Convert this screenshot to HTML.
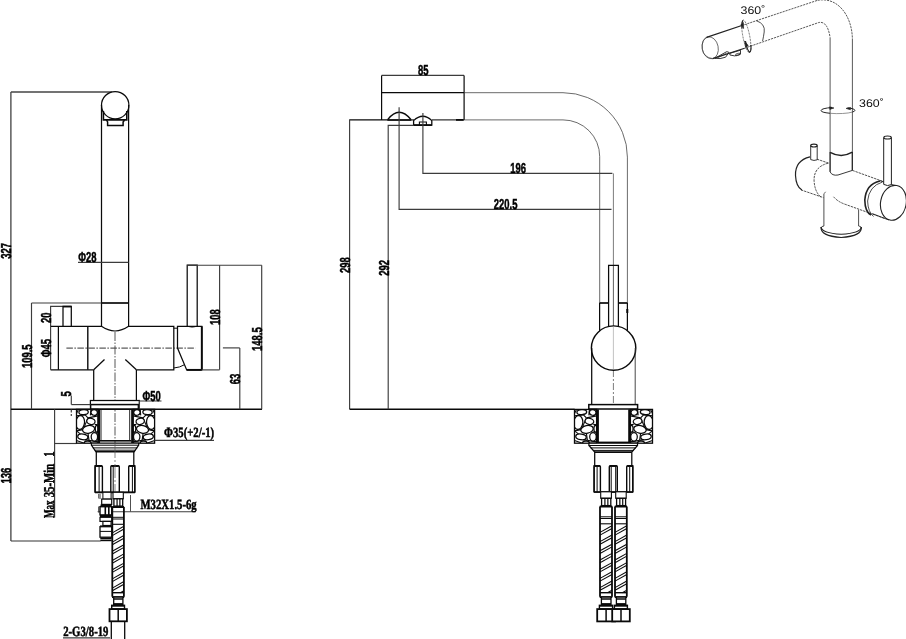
<!DOCTYPE html>
<html><head><meta charset="utf-8"><title>Faucet dimensions</title>
<style>
html,body{margin:0;padding:0;background:#fff;}
body{width:906px;height:639px;overflow:hidden;font-family:"Liberation Sans",sans-serif;}
svg{will-change:transform;transform:translateZ(0);}
svg text{font-kerning:none;text-rendering:geometricPrecision;}
</style></head><body>
<svg width="906" height="639" viewBox="0 0 906 639" style="display:block">
<line x1="10.9" y1="92" x2="10.9" y2="541" stroke="#333" stroke-width="1.2" />
<line x1="10.9" y1="92" x2="112" y2="92" stroke="#444" stroke-width="1.3" />
<line x1="10.9" y1="409.3" x2="262" y2="409.3" stroke="#0a0a0a" stroke-width="1.6" />
<line x1="10.9" y1="541" x2="100.6" y2="541" stroke="#333" stroke-width="1.2" />
<text transform="translate(10.9 258.7) rotate(-90) scale(0.655 1)" font-family='"Liberation Sans", sans-serif' font-size="14.4" font-weight="bold" fill="#000" stroke="#000" stroke-width="0.5">327</text>
<text transform="translate(10.9 483.4) rotate(-90) scale(0.655 1)" font-family='"Liberation Sans", sans-serif' font-size="14.4" font-weight="bold" fill="#000" stroke="#000" stroke-width="0.5">136</text>
<circle cx="115.2" cy="105.2" r="13.7" stroke="#0a0a0a" stroke-width="1.25" fill="#fff"/>
<line x1="101.5" y1="105" x2="101.5" y2="326.3" stroke="#0a0a0a" stroke-width="1.25" />
<line x1="128.6" y1="105" x2="128.6" y2="326.3" stroke="#0a0a0a" stroke-width="1.25" />
<path d="M103.4 111 V119.9 H126.8 V111" stroke="#0a0a0a" stroke-width="1.6" fill="none" />
<path d="M106.5 120 L107.6 122 V125.5 H123.1 V122 L124.5 120" stroke="#0a0a0a" stroke-width="1.5" fill="none" />
<line x1="78" y1="262.4" x2="128.6" y2="262.4" stroke="#3c3c3c" stroke-width="1.15" />
<text transform="translate(78.3 262.4) rotate(0) scale(0.655 1)" font-family='"Liberation Sans", sans-serif' font-size="14.4" font-weight="bold" fill="#000" stroke="#000" stroke-width="0.5">&#934;28</text>
<line x1="31.5" y1="303" x2="101.5" y2="303" stroke="#3c3c3c" stroke-width="1.15" />
<line x1="101.5" y1="303" x2="128.6" y2="303" stroke="#0a0a0a" stroke-width="1.7" />
<line x1="31.5" y1="303" x2="31.5" y2="409.3" stroke="#3c3c3c" stroke-width="1.15" />
<text transform="translate(31.5 368) rotate(-90) scale(0.655 1)" font-family='"Liberation Sans", sans-serif' font-size="14.4" font-weight="bold" fill="#000" stroke="#000" stroke-width="0.5">109.5</text>
<path d="M50.6 326.3 V306.4 H63" stroke="#3c3c3c" stroke-width="1.15" fill="none" />
<path d="M63 326.3 V306.4 H71.3 V326.3" stroke="#0a0a0a" stroke-width="1.25" fill="none" />
<line x1="63" y1="306.6" x2="71.3" y2="306.6" stroke="#0a0a0a" stroke-width="1.7" />
<text transform="translate(50.6 323) rotate(-90) scale(0.655 1)" font-family='"Liberation Sans", sans-serif' font-size="14.4" font-weight="bold" fill="#000" stroke="#000" stroke-width="0.5">20</text>
<line x1="50.6" y1="326.3" x2="50.6" y2="369.8" stroke="#3c3c3c" stroke-width="1.15" />
<text transform="translate(50.6 357.3) rotate(-90) scale(0.655 1)" font-family='"Liberation Sans", sans-serif' font-size="14.4" font-weight="bold" fill="#000" stroke="#000" stroke-width="0.5">&#934;45</text>
<path d="M50.6 326.3 H101.5 Q108 330.8 115 331 Q122 330.8 128.6 326.3 H173.8 V369.8 H136.4" stroke="#0a0a0a" stroke-width="1.25" fill="none" />
<path d="M50.6 369.8 H93.7" stroke="#0a0a0a" stroke-width="1.25" fill="none" />
<line x1="58.4" y1="326.3" x2="58.4" y2="369.8" stroke="#0a0a0a" stroke-width="1.25" />
<line x1="87.8" y1="326.3" x2="87.8" y2="369.8" stroke="#0a0a0a" stroke-width="1.4" />
<line x1="93.7" y1="369.8" x2="104.5" y2="359.5" stroke="#0a0a0a" stroke-width="1.25" />
<line x1="136.4" y1="369.8" x2="125.3" y2="359.5" stroke="#0a0a0a" stroke-width="1.25" />
<line x1="93.7" y1="369.8" x2="93.7" y2="400.5" stroke="#0a0a0a" stroke-width="1.25" />
<line x1="136.4" y1="369.8" x2="136.4" y2="400.5" stroke="#0a0a0a" stroke-width="1.25" />
<line x1="66.4" y1="348.1" x2="195.5" y2="348.1" stroke="#333" stroke-width="1.0" stroke-dasharray="6.5 1.5 1.5 1.5"/>
<line x1="115" y1="332" x2="115" y2="444" stroke="#444" stroke-width="0.9" stroke-dasharray="9 1.5 1.5 1.5"/>
<path d="M177.5 326.4 H201.8 V369.9 H186.7 L177.5 348 Z" stroke="#0a0a0a" stroke-width="1.25" fill="none" />
<line x1="201.8" y1="326.3" x2="201.8" y2="369.9" stroke="#0a0a0a" stroke-width="1.9" />
<line x1="186.7" y1="369.9" x2="201.8" y2="369.9" stroke="#0a0a0a" stroke-width="1.9" />
<line x1="173.7" y1="328.2" x2="177.5" y2="328.2" stroke="#0a0a0a" stroke-width="1.0" />
<path d="M173.8 368 Q180 367.5 184.5 364.7" stroke="#0a0a0a" stroke-width="1.0" fill="none" />
<path d="M187.2 326.3 V265.2 H197.2 V326.3" stroke="#0a0a0a" stroke-width="1.25" fill="none" />
<path d="M189 326.6 Q192 327.8 195.5 326.6" stroke="#0a0a0a" stroke-width="0.8" fill="none" />
<line x1="187.2" y1="265.2" x2="261.8" y2="265.2" stroke="#3c3c3c" stroke-width="1.15" />
<line x1="219.6" y1="265.2" x2="219.6" y2="369.8" stroke="#3c3c3c" stroke-width="1.15" />
<line x1="201.8" y1="369.9" x2="219.6" y2="369.9" stroke="#3c3c3c" stroke-width="1.15" />
<text transform="translate(219.6 325) rotate(-90) scale(0.655 1)" font-family='"Liberation Sans", sans-serif' font-size="14.4" font-weight="bold" fill="#000" stroke="#000" stroke-width="0.5">108</text>
<line x1="261.7" y1="265.2" x2="261.7" y2="409.3" stroke="#3c3c3c" stroke-width="1.15" />
<text transform="translate(261.7 350.9) rotate(-90) scale(0.655 1)" font-family='"Liberation Sans", sans-serif' font-size="14.4" font-weight="bold" fill="#000" stroke="#000" stroke-width="0.5">148.5</text>
<line x1="222.9" y1="347.9" x2="239.8" y2="347.9" stroke="#3c3c3c" stroke-width="1.15" />
<line x1="239.8" y1="347.9" x2="239.8" y2="409.3" stroke="#3c3c3c" stroke-width="1.15" />
<text transform="translate(239.8 384.2) rotate(-90) scale(0.655 1)" font-family='"Liberation Sans", sans-serif' font-size="14.4" font-weight="bold" fill="#000" stroke="#000" stroke-width="0.5">63</text>
<rect x="90.4" y="400.5" width="49" height="4.1" stroke="#0a0a0a" stroke-width="1.25" fill="#fff"/>
<rect x="90.6" y="404.6" width="47.8" height="4.4" stroke="#0a0a0a" stroke-width="1.5" fill="#fff"/>
<line x1="71.3" y1="395.5" x2="71.3" y2="404.6" stroke="#3c3c3c" stroke-width="1.15" />
<line x1="71.3" y1="404.6" x2="90.4" y2="404.6" stroke="#3c3c3c" stroke-width="1.15" />
<line x1="71.3" y1="409.5" x2="71.3" y2="416" stroke="#3c3c3c" stroke-width="1.15" stroke-dasharray="3 1.5"/>
<text transform="translate(71.3 396.5) rotate(-90) scale(0.655 1)" font-family='"Liberation Sans", sans-serif' font-size="14.4" font-weight="bold" fill="#000" stroke="#000" stroke-width="0.5">5</text>
<path d="M139.4 409 V401 H161.5" stroke="#3c3c3c" stroke-width="1.15" fill="none" />
<text transform="translate(142.4 401) rotate(0) scale(0.655 1)" font-family='"Liberation Sans", sans-serif' font-size="14.4" font-weight="bold" fill="#000" stroke="#000" stroke-width="0.5">&#934;50</text>
<line x1="54.6" y1="409.3" x2="54.6" y2="517.5" stroke="#3c3c3c" stroke-width="1.15" />
<line x1="54.6" y1="443.5" x2="76.5" y2="443.5" stroke="#3c3c3c" stroke-width="1.15" />
<text transform="translate(54.3 517.9) rotate(-90) scale(0.6 1)" font-family='"Liberation Serif", serif' font-size="15" font-weight="bold" fill="#000" stroke="#000" stroke-width="0.5">Max</text>
<text transform="translate(54.3 497.3) rotate(-90) scale(0.72 1)" font-family='"Liberation Serif", serif' font-size="15" font-weight="bold" fill="#000" stroke="#000" stroke-width="0.5">35-Min</text>
<text transform="translate(54.3 456.8) rotate(-90) scale(0.72 1)" font-family='"Liberation Serif", serif' font-size="15" font-weight="bold" fill="#000" stroke="#000" stroke-width="0.5">1</text>
<clipPath id="cb1"><rect x="76.5" y="409.4" width="21.400000000000006" height="33.80000000000001"/></clipPath>
<rect x="76.5" y="409.4" width="21.400000000000006" height="33.80000000000001" fill="#fff" stroke="none"/>
<g clip-path="url(#cb1)" stroke="#0a0a0a" stroke-width="1.25" fill="#fff">
<line x1="76.5" y1="415.9" x2="85.1" y2="414.9" stroke-width="1.1"/>
<line x1="85.1" y1="414.9" x2="88.0" y2="417.9" stroke-width="1.1"/>
<line x1="88.0" y1="417.9" x2="97.9" y2="415.9" stroke-width="1.1"/>
<line x1="84.2" y1="429.4" x2="76.5" y2="430.9" stroke-width="1.1"/>
<line x1="85.1" y1="424.9" x2="88.0" y2="417.9" stroke-width="1.1"/>
<line x1="85.1" y1="424.9" x2="83.2" y2="431.4" stroke-width="1.1"/>
<line x1="94.7" y1="424.4" x2="97.9" y2="424.9" stroke-width="1.1"/>
<line x1="92.8" y1="432.4" x2="97.9" y2="431.9" stroke-width="1.1"/>
<line x1="88.0" y1="433.4" x2="89.0" y2="440.4" stroke-width="1.1"/>
<line x1="89.0" y1="440.4" x2="97.9" y2="441.9" stroke-width="1.1"/>
<line x1="76.5" y1="440.4" x2="84.2" y2="443.2" stroke-width="1.1"/>
<line x1="90.4" y1="415.4" x2="90.9" y2="409.4" stroke-width="1.1"/>
<line x1="78.4" y1="409.4" x2="76.5" y2="413.4" stroke-width="1.1"/>
<line x1="76.5" y1="430.9" x2="80.3" y2="433.9" stroke-width="1.1"/>
<line x1="89.0" y1="440.4" x2="85.1" y2="439.9" stroke-width="1.1"/>
<ellipse cx="83.6" cy="412.1" rx="4.7" ry="2.5" transform="rotate(-5 83.6 412.1)"/>
<ellipse cx="94.2" cy="412.5" rx="3.2" ry="2.8" transform="rotate(10 94.2 412.5)"/>
<ellipse cx="80.1" cy="422.6" rx="4.4" ry="6.9" transform="rotate(6 80.1 422.6)"/>
<ellipse cx="90.9" cy="421.3" rx="4.2" ry="3.1" transform="rotate(12 90.9 421.3)"/>
<ellipse cx="88.6" cy="429.4" rx="6.1" ry="3.8" transform="rotate(-12 88.6 429.4)"/>
<ellipse cx="82.8" cy="436.9" rx="5.1" ry="2.8" transform="rotate(8 82.8 436.9)"/>
<ellipse cx="94.4" cy="436.8" rx="3.2" ry="4.3" transform="rotate(0 94.4 436.8)"/>
<ellipse cx="87.6" cy="442.8" rx="3.3" ry="1.7" transform="rotate(0 87.6 442.8)"/>
<ellipse cx="96.8" cy="428.7" rx="1.5" ry="3.4" transform="rotate(0 96.8 428.7)"/>
</g>
<rect x="76.5" y="409.4" width="21.400000000000006" height="33.80000000000001" fill="none" stroke="#0a0a0a" stroke-width="1.3"/>
<clipPath id="cb2"><rect x="133.2" y="409.4" width="21.400000000000006" height="33.80000000000001"/></clipPath>
<rect x="133.2" y="409.4" width="21.400000000000006" height="33.80000000000001" fill="#fff" stroke="none"/>
<g clip-path="url(#cb2)" stroke="#0a0a0a" stroke-width="1.25" fill="#fff">
<line x1="154.6" y1="415.9" x2="146.0" y2="414.9" stroke-width="1.1"/>
<line x1="146.0" y1="414.9" x2="143.1" y2="417.9" stroke-width="1.1"/>
<line x1="143.1" y1="417.9" x2="133.2" y2="415.9" stroke-width="1.1"/>
<line x1="146.9" y1="429.4" x2="154.6" y2="430.9" stroke-width="1.1"/>
<line x1="146.0" y1="424.9" x2="143.1" y2="417.9" stroke-width="1.1"/>
<line x1="146.0" y1="424.9" x2="147.9" y2="431.4" stroke-width="1.1"/>
<line x1="136.4" y1="424.4" x2="133.2" y2="424.9" stroke-width="1.1"/>
<line x1="138.3" y1="432.4" x2="133.2" y2="431.9" stroke-width="1.1"/>
<line x1="143.1" y1="433.4" x2="142.1" y2="440.4" stroke-width="1.1"/>
<line x1="142.1" y1="440.4" x2="133.2" y2="441.9" stroke-width="1.1"/>
<line x1="154.6" y1="440.4" x2="146.9" y2="443.2" stroke-width="1.1"/>
<line x1="140.7" y1="415.4" x2="140.2" y2="409.4" stroke-width="1.1"/>
<line x1="152.7" y1="409.4" x2="154.6" y2="413.4" stroke-width="1.1"/>
<line x1="154.6" y1="430.9" x2="150.8" y2="433.9" stroke-width="1.1"/>
<line x1="142.1" y1="440.4" x2="146.0" y2="439.9" stroke-width="1.1"/>
<ellipse cx="147.5" cy="412.1" rx="4.7" ry="2.5" transform="rotate(5 147.5 412.1)"/>
<ellipse cx="136.9" cy="412.5" rx="3.2" ry="2.8" transform="rotate(-10 136.9 412.5)"/>
<ellipse cx="151.0" cy="422.6" rx="4.4" ry="6.9" transform="rotate(-6 151.0 422.6)"/>
<ellipse cx="140.2" cy="421.3" rx="4.2" ry="3.1" transform="rotate(-12 140.2 421.3)"/>
<ellipse cx="142.5" cy="429.4" rx="6.1" ry="3.8" transform="rotate(12 142.5 429.4)"/>
<ellipse cx="148.3" cy="436.9" rx="5.1" ry="2.8" transform="rotate(-8 148.3 436.9)"/>
<ellipse cx="136.7" cy="436.8" rx="3.2" ry="4.3" transform="rotate(0 136.7 436.8)"/>
<ellipse cx="143.5" cy="442.8" rx="3.3" ry="1.7" transform="rotate(0 143.5 442.8)"/>
<ellipse cx="134.3" cy="428.7" rx="1.5" ry="3.4" transform="rotate(0 134.3 428.7)"/>
</g>
<rect x="133.2" y="409.4" width="21.400000000000006" height="33.80000000000001" fill="none" stroke="#0a0a0a" stroke-width="1.3"/>
<line x1="98.9" y1="409.3" x2="98.9" y2="443" stroke="#0a0a0a" stroke-width="2.3" />
<line x1="132.3" y1="409.3" x2="132.3" y2="443" stroke="#0a0a0a" stroke-width="2.3" />
<line x1="101.0" y1="409.3" x2="101.0" y2="441" stroke="#0a0a0a" stroke-width="0.9" />
<line x1="129.7" y1="409.3" x2="129.7" y2="441" stroke="#0a0a0a" stroke-width="0.9" />
<line x1="100" y1="440.8" x2="131.5" y2="440.8" stroke="#0a0a0a" stroke-width="1.6" />
<line x1="154.5" y1="440.3" x2="214" y2="440.3" stroke="#3c3c3c" stroke-width="1.15" />
<text transform="translate(164.1 436.8) rotate(0) scale(0.76 1)" font-family='"Liberation Serif", serif' font-size="14.1" font-weight="bold" fill="#000" stroke="#000" stroke-width="0.5">&#934;35(+2/-1)</text>
<path d="M91.4 443 V445 L95.8 451.6 H96.3 V465.7 H95.1 V492.3 H134.8 V465.7 H133.8 V451.6 H134.3 L138.7 445 V443 Z" stroke="#0a0a0a" stroke-width="1.25" fill="#fff" />
<line x1="91.4" y1="445.2" x2="138.7" y2="445.2" stroke="#0a0a0a" stroke-width="1.0" />
<line x1="92.8" y1="447.9" x2="137.3" y2="447.9" stroke="#0a0a0a" stroke-width="1.0" />
<line x1="94.8" y1="450.2" x2="135.3" y2="450.2" stroke="#0a0a0a" stroke-width="1.0" />
<line x1="95.8" y1="451.8" x2="134.3" y2="451.8" stroke="#0a0a0a" stroke-width="1.5" />
<line x1="95" y1="492.3" x2="135" y2="492.3" stroke="#0a0a0a" stroke-width="1.7" />
<path d="M95.1 492.3 V466.7 Q95.1 465.7 96.1 465.7 H101.4 Q102.4 465.7 102.4 466.7 V492.3" stroke="#0a0a0a" stroke-width="1.4" fill="none" />
<line x1="95.6" y1="466.0" x2="101.9" y2="466.0" stroke="#0a0a0a" stroke-width="1.9" />
<line x1="99.1" y1="466.9" x2="99.1" y2="492.3" stroke="#0a0a0a" stroke-width="1.0" />
<path d="M110.8 492.3 V466.7 Q110.8 465.7 111.8 465.7 H118.3 Q119.3 465.7 119.3 466.7 V492.3" stroke="#0a0a0a" stroke-width="1.4" fill="none" />
<line x1="111.3" y1="466.0" x2="118.8" y2="466.0" stroke="#0a0a0a" stroke-width="1.9" />
<line x1="113.2" y1="466.9" x2="113.2" y2="492.3" stroke="#0a0a0a" stroke-width="1.0" />
<path d="M128.7 492.3 V466.7 Q128.7 465.7 129.7 465.7 H133.8 Q134.8 465.7 134.8 466.7 V492.3" stroke="#0a0a0a" stroke-width="1.4" fill="none" />
<line x1="129.2" y1="466.0" x2="134.3" y2="466.0" stroke="#0a0a0a" stroke-width="1.9" />
<line x1="132.4" y1="466.9" x2="132.4" y2="492.3" stroke="#0a0a0a" stroke-width="1.0" />
<line x1="115" y1="444" x2="115" y2="492" stroke="#555" stroke-width="0.7" stroke-dasharray="14 2 2 2"/>
<line x1="130.5" y1="495" x2="130.5" y2="511.5" stroke="#3c3c3c" stroke-width="0.9" />
<line x1="111.7" y1="511.7" x2="196" y2="511.7" stroke="#3c3c3c" stroke-width="1.15" />
<line x1="98.6" y1="506.5" x2="98.6" y2="512.6" stroke="#3c3c3c" stroke-width="0.9" />
<line x1="97.6" y1="511.7" x2="100" y2="511.7" stroke="#3c3c3c" stroke-width="0.9" />
<line x1="98.6" y1="494" x2="98.6" y2="498.5" stroke="#3c3c3c" stroke-width="0.8" />
<text transform="translate(140.5 508.5) rotate(0) scale(0.76 1)" font-family='"Liberation Serif", serif' font-size="14.1" font-weight="bold" fill="#000" stroke="#000" stroke-width="0.5">M32X1.5-6g</text>
<line x1="63" y1="637.9" x2="110" y2="637.9" stroke="#3c3c3c" stroke-width="1.15" />
<text transform="translate(63.2 635.7) rotate(0) scale(0.76 1)" font-family='"Liberation Serif", serif' font-size="14.1" font-weight="bold" fill="#000" stroke="#000" stroke-width="0.5">2-G3/8-19</text>
<rect x="113.0" y="492.3" width="10.300000000000008" height="6.5" stroke="#0a0a0a" stroke-width="1.1" fill="#fff"/>
<rect x="113.89999999999999" y="498.8" width="8.800000000000008" height="7.3" stroke="#0a0a0a" stroke-width="1.3" fill="#fff"/>
<line x1="117.068" y1="498.8" x2="117.068" y2="506.1" stroke="#0a0a0a" stroke-width="1.2" />
<line x1="119.884" y1="498.8" x2="119.884" y2="506.1" stroke="#0a0a0a" stroke-width="1.2" />
<line x1="112.1" y1="507.0" x2="124.10000000000001" y2="507.0" stroke="#0a0a0a" stroke-width="2.0" />
<line x1="112.3" y1="507.0" x2="112.3" y2="596.7" stroke="#0a0a0a" stroke-width="1.8" />
<line x1="123.9" y1="507.0" x2="123.9" y2="596.7" stroke="#0a0a0a" stroke-width="1.8" />
<line x1="112.3" y1="517.3" x2="123.9" y2="517.3" stroke="#0a0a0a" stroke-width="1.0" />
<line x1="112.3" y1="519.0" x2="123.9" y2="519.0" stroke="#0a0a0a" stroke-width="1.0" />
<line x1="112.3" y1="524.3" x2="123.9" y2="524.3" stroke="#0a0a0a" stroke-width="1.1" />
<line x1="112.3" y1="532.9" x2="123.9" y2="526.3" stroke="#0a0a0a" stroke-width="1.05" />
<line x1="112.3" y1="535.6" x2="123.9" y2="529.0" stroke="#0a0a0a" stroke-width="1.05" />
<line x1="112.3" y1="542.1" x2="123.9" y2="535.5" stroke="#0a0a0a" stroke-width="1.05" />
<line x1="112.3" y1="544.8" x2="123.9" y2="538.2" stroke="#0a0a0a" stroke-width="1.05" />
<line x1="112.3" y1="551.3" x2="123.9" y2="544.7" stroke="#0a0a0a" stroke-width="1.05" />
<line x1="112.3" y1="554.0" x2="123.9" y2="547.4" stroke="#0a0a0a" stroke-width="1.05" />
<line x1="112.3" y1="560.5" x2="123.9" y2="553.9" stroke="#0a0a0a" stroke-width="1.05" />
<line x1="112.3" y1="563.2" x2="123.9" y2="556.6" stroke="#0a0a0a" stroke-width="1.05" />
<line x1="112.3" y1="569.7" x2="123.9" y2="563.1" stroke="#0a0a0a" stroke-width="1.05" />
<line x1="112.3" y1="572.4" x2="123.9" y2="565.8" stroke="#0a0a0a" stroke-width="1.05" />
<line x1="112.3" y1="578.9" x2="123.9" y2="572.3" stroke="#0a0a0a" stroke-width="1.05" />
<line x1="112.3" y1="581.6" x2="123.9" y2="575.0" stroke="#0a0a0a" stroke-width="1.05" />
<line x1="112.3" y1="588.1" x2="123.9" y2="581.5" stroke="#0a0a0a" stroke-width="1.05" />
<line x1="112.3" y1="590.8" x2="123.9" y2="584.2" stroke="#0a0a0a" stroke-width="1.05" />
<line x1="120.4" y1="592.7" x2="123.9" y2="590.7" stroke="#0a0a0a" stroke-width="1.05" />
<line x1="112.3" y1="592.7" x2="123.9" y2="592.7" stroke="#0a0a0a" stroke-width="1.4" />
<line x1="112.0" y1="597.1" x2="124.2" y2="597.1" stroke="#0a0a0a" stroke-width="1.9" />
<rect x="113.7" y="597.1" width="9.200000000000008" height="7.5" stroke="#0a0a0a" stroke-width="1.3" fill="#fff"/>
<line x1="113.7" y1="599.0" x2="122.9" y2="599.0" stroke="#0a0a0a" stroke-width="1.5" />
<line x1="113.7" y1="603.9000000000001" x2="122.9" y2="603.9000000000001" stroke="#0a0a0a" stroke-width="1.6" />
<rect x="111.7" y="605.3000000000001" width="12.800000000000008" height="3.6" stroke="#0a0a0a" stroke-width="1.4" fill="#fff"/>
<line x1="111.7" y1="605.9000000000001" x2="124.5" y2="605.9000000000001" stroke="#0a0a0a" stroke-width="1.6" />
<rect x="109.5" y="609.1" width="17.40000000000001" height="12.199999999999932" stroke="#0a0a0a" stroke-width="1.8" fill="#fff"/>
<line x1="118.2" y1="609.1" x2="118.2" y2="621.3" stroke="#0a0a0a" stroke-width="1.5" />
<line x1="111.3" y1="621.3" x2="111.3" y2="639" stroke="#0a0a0a" stroke-width="1.3" />
<line x1="124.7" y1="621.3" x2="124.7" y2="639" stroke="#0a0a0a" stroke-width="1.3" />
<line x1="100" y1="493.8" x2="100" y2="499" stroke="#0a0a0a" stroke-width="0.8" />
<rect x="102.9" y="492.3" width="8.2" height="6.8" stroke="#0a0a0a" stroke-width="1.0" fill="#fff"/>
<rect x="101.7" y="499.1" width="10" height="5.3" stroke="#0a0a0a" stroke-width="1.2" fill="#fff"/>
<line x1="100.5" y1="505.6" x2="111.7" y2="505.6" stroke="#0a0a0a" stroke-width="2.2" />
<rect x="100" y="506.7" width="11.7" height="8.2" stroke="#0a0a0a" stroke-width="1.4" fill="#fff"/>
<line x1="105.3" y1="506.7" x2="105.3" y2="514.9" stroke="#0a0a0a" stroke-width="1.6" />
<line x1="108.8" y1="506.7" x2="108.8" y2="514.9" stroke="#0a0a0a" stroke-width="1.6" />
<line x1="100" y1="516.1" x2="111.7" y2="516.1" stroke="#0a0a0a" stroke-width="2.2" />
<rect x="100" y="517.3" width="11.7" height="4.1" stroke="#0a0a0a" stroke-width="1.2" fill="#fff"/>
<rect x="102.9" y="521.4" width="8.2" height="4.1" stroke="#0a0a0a" stroke-width="1.2" fill="#fff"/>
<line x1="100" y1="526.1" x2="111.7" y2="526.1" stroke="#0a0a0a" stroke-width="1.4" />
<rect x="100" y="526.7" width="11.7" height="10.5" stroke="#0a0a0a" stroke-width="1.3" fill="#fff"/>
<line x1="100" y1="531.4" x2="111.7" y2="531.4" stroke="#0a0a0a" stroke-width="1.0" />
<line x1="100.3" y1="538.3" x2="111.7" y2="538.3" stroke="#0a0a0a" stroke-width="1.6" />
<line x1="100.3" y1="540.4" x2="111.7" y2="540.4" stroke="#0a0a0a" stroke-width="1.6" />
<line x1="381.6" y1="75.4" x2="464.1" y2="75.4" stroke="#3c3c3c" stroke-width="1.15" />
<line x1="381.6" y1="75.4" x2="381.6" y2="120" stroke="#0a0a0a" stroke-width="1.2" />
<line x1="464.1" y1="75.4" x2="464.1" y2="120" stroke="#0a0a0a" stroke-width="1.2" />
<text transform="translate(418 75.4) rotate(0) scale(0.655 1)" font-family='"Liberation Sans", sans-serif' font-size="14.4" font-weight="bold" fill="#000" stroke="#000" stroke-width="0.5">85</text>
<line x1="381.6" y1="92.7" x2="464.1" y2="92.7" stroke="#0a0a0a" stroke-width="1.3" />
<path d="M464.1 92.7 H563 A64.4 64.4 0 0 1 627.4 157.1 V303" stroke="#3a3a3a" stroke-width="0.75" fill="none" />
<path d="M464.1 119.9 H563 A36.7 36.7 0 0 1 599.7 156.6 V303" stroke="#3a3a3a" stroke-width="0.75" fill="none" />
<line x1="349.2" y1="119.9" x2="388" y2="119.9" stroke="#0a0a0a" stroke-width="1.1" />
<line x1="387.4" y1="120" x2="411.3" y2="120" stroke="#0a0a0a" stroke-width="1.8" />
<line x1="411" y1="119.9" x2="414" y2="119.9" stroke="#0a0a0a" stroke-width="1.1" />
<line x1="431.8" y1="119.9" x2="464.1" y2="119.9" stroke="#333" stroke-width="1.3" />
<line x1="456" y1="119.9" x2="463.6" y2="119.9" stroke="#0a0a0a" stroke-width="1.8" />
<path d="M387.8 119.5 Q399 105 410.9 119.5" stroke="#0a0a0a" stroke-width="1.3" fill="none" />
<path d="M413.6 125.1 V120.6 Q422.9 111.8 431.8 120.6 V125.1 Z" stroke="#0a0a0a" stroke-width="1.3" fill="#fff" />
<path d="M419.4 125.1 V122 H426.4 V125.1" stroke="#0a0a0a" stroke-width="1.1" fill="none" />
<line x1="413.6" y1="125.1" x2="431.8" y2="125.1" stroke="#0a0a0a" stroke-width="1.7" />
<line x1="349.6" y1="119.9" x2="349.6" y2="409.3" stroke="#3c3c3c" stroke-width="1.15" />
<line x1="349.6" y1="409.3" x2="574.5" y2="409.3" stroke="#0a0a0a" stroke-width="1.4" />
<text transform="translate(349.6 273) rotate(-90) scale(0.655 1)" font-family='"Liberation Sans", sans-serif' font-size="14.4" font-weight="bold" fill="#000" stroke="#000" stroke-width="0.5">298</text>
<path d="M413.6 125.3 H388.2 V409.3" stroke="#3c3c3c" stroke-width="1.15" fill="none" />
<text transform="translate(388.5 275.8) rotate(-90) scale(0.655 1)" font-family='"Liberation Sans", sans-serif' font-size="14.4" font-weight="bold" fill="#000" stroke="#000" stroke-width="0.5">292</text>
<path d="M399.1 107.3 V209.4 H611.5" stroke="#3c3c3c" stroke-width="1.15" fill="none" />
<text transform="translate(493.8 209.4) rotate(0) scale(0.655 1)" font-family='"Liberation Sans", sans-serif' font-size="14.4" font-weight="bold" fill="#000" stroke="#000" stroke-width="0.5">220.5</text>
<path d="M422.9 113.1 V173.4 H612.4" stroke="#3c3c3c" stroke-width="1.15" fill="none" />
<text transform="translate(510.3 173.4) rotate(0) scale(0.655 1)" font-family='"Liberation Sans", sans-serif' font-size="14.4" font-weight="bold" fill="#000" stroke="#000" stroke-width="0.5">196</text>
<line x1="613.4" y1="173.4" x2="613.4" y2="326" stroke="#444" stroke-width="0.7" />
<line x1="613.4" y1="326" x2="613.4" y2="370" stroke="#888" stroke-width="0.6" />
<line x1="613.4" y1="370" x2="613.4" y2="409" stroke="#444" stroke-width="0.7" stroke-dasharray="7 2 2 2"/>
<line x1="599.6" y1="303" x2="599.6" y2="332" stroke="#0a0a0a" stroke-width="1.25" />
<line x1="627.4" y1="303" x2="627.4" y2="332" stroke="#0a0a0a" stroke-width="1.25" />
<line x1="599.6" y1="303" x2="608.6" y2="303" stroke="#0a0a0a" stroke-width="1.7" />
<line x1="618.4" y1="303" x2="627.4" y2="303" stroke="#0a0a0a" stroke-width="1.7" />
<line x1="627.3" y1="309" x2="627.3" y2="313" stroke="#0a0a0a" stroke-width="2.0" />
<path d="M608.6 326.5 V265.4 H618.4 V326.5" stroke="#0a0a0a" stroke-width="1.25" fill="#fff" />
<line x1="613.4" y1="266" x2="613.4" y2="326" stroke="#333" stroke-width="0.8" />
<circle cx="613.6" cy="348.1" r="22.2" stroke="#0a0a0a" stroke-width="1.4" fill="#fff"/>
<line x1="613.4" y1="327" x2="613.4" y2="369" stroke="#999" stroke-width="0.6" />
<line x1="591.7" y1="348" x2="591.7" y2="404.5" stroke="#0a0a0a" stroke-width="1.25" />
<line x1="635.2" y1="348" x2="635.2" y2="404.5" stroke="#333" stroke-width="0.9" />
<rect x="588.8" y="404.6" width="48.8" height="4.4" stroke="#0a0a0a" stroke-width="1.5" fill="#fff"/>
<clipPath id="cb3"><rect x="574.5" y="409.4" width="22.100000000000023" height="33.80000000000001"/></clipPath>
<rect x="574.5" y="409.4" width="22.100000000000023" height="33.80000000000001" fill="#fff" stroke="none"/>
<g clip-path="url(#cb3)" stroke="#0a0a0a" stroke-width="1.25" fill="#fff">
<line x1="574.5" y1="415.9" x2="583.4" y2="414.9" stroke-width="1.1"/>
<line x1="583.4" y1="414.9" x2="586.4" y2="417.9" stroke-width="1.1"/>
<line x1="586.4" y1="417.9" x2="596.6" y2="415.9" stroke-width="1.1"/>
<line x1="582.4" y1="429.4" x2="574.5" y2="430.9" stroke-width="1.1"/>
<line x1="583.4" y1="424.9" x2="586.4" y2="417.9" stroke-width="1.1"/>
<line x1="583.4" y1="424.9" x2="581.4" y2="431.4" stroke-width="1.1"/>
<line x1="593.3" y1="424.4" x2="596.6" y2="424.9" stroke-width="1.1"/>
<line x1="591.3" y1="432.4" x2="596.6" y2="431.9" stroke-width="1.1"/>
<line x1="586.4" y1="433.4" x2="587.4" y2="440.4" stroke-width="1.1"/>
<line x1="587.4" y1="440.4" x2="596.6" y2="441.9" stroke-width="1.1"/>
<line x1="574.5" y1="440.4" x2="582.4" y2="443.2" stroke-width="1.1"/>
<line x1="588.9" y1="415.4" x2="589.4" y2="409.4" stroke-width="1.1"/>
<line x1="576.5" y1="409.4" x2="574.5" y2="413.4" stroke-width="1.1"/>
<line x1="574.5" y1="430.9" x2="578.5" y2="433.9" stroke-width="1.1"/>
<line x1="587.4" y1="440.4" x2="583.4" y2="439.9" stroke-width="1.1"/>
<ellipse cx="581.8" cy="412.1" rx="4.9" ry="2.5" transform="rotate(-5 581.8 412.1)"/>
<ellipse cx="592.7" cy="412.5" rx="3.3" ry="2.8" transform="rotate(10 592.7 412.5)"/>
<ellipse cx="578.2" cy="422.6" rx="4.6" ry="6.9" transform="rotate(6 578.2 422.6)"/>
<ellipse cx="589.4" cy="421.3" rx="4.4" ry="3.1" transform="rotate(12 589.4 421.3)"/>
<ellipse cx="587.0" cy="429.4" rx="6.3" ry="3.8" transform="rotate(-12 587.0 429.4)"/>
<ellipse cx="581.0" cy="436.9" rx="5.3" ry="2.8" transform="rotate(8 581.0 436.9)"/>
<ellipse cx="593.0" cy="436.8" rx="3.3" ry="4.3" transform="rotate(0 593.0 436.8)"/>
<ellipse cx="586.0" cy="442.8" rx="3.4" ry="1.7" transform="rotate(0 586.0 442.8)"/>
<ellipse cx="595.5" cy="428.7" rx="1.6" ry="3.4" transform="rotate(0 595.5 428.7)"/>
</g>
<rect x="574.5" y="409.4" width="22.100000000000023" height="33.80000000000001" fill="none" stroke="#0a0a0a" stroke-width="1.3"/>
<clipPath id="cb4"><rect x="630.4" y="409.4" width="22.100000000000023" height="33.80000000000001"/></clipPath>
<rect x="630.4" y="409.4" width="22.100000000000023" height="33.80000000000001" fill="#fff" stroke="none"/>
<g clip-path="url(#cb4)" stroke="#0a0a0a" stroke-width="1.25" fill="#fff">
<line x1="652.5" y1="415.9" x2="643.6" y2="414.9" stroke-width="1.1"/>
<line x1="643.6" y1="414.9" x2="640.6" y2="417.9" stroke-width="1.1"/>
<line x1="640.6" y1="417.9" x2="630.4" y2="415.9" stroke-width="1.1"/>
<line x1="644.6" y1="429.4" x2="652.5" y2="430.9" stroke-width="1.1"/>
<line x1="643.6" y1="424.9" x2="640.6" y2="417.9" stroke-width="1.1"/>
<line x1="643.6" y1="424.9" x2="645.6" y2="431.4" stroke-width="1.1"/>
<line x1="633.7" y1="424.4" x2="630.4" y2="424.9" stroke-width="1.1"/>
<line x1="635.7" y1="432.4" x2="630.4" y2="431.9" stroke-width="1.1"/>
<line x1="640.6" y1="433.4" x2="639.6" y2="440.4" stroke-width="1.1"/>
<line x1="639.6" y1="440.4" x2="630.4" y2="441.9" stroke-width="1.1"/>
<line x1="652.5" y1="440.4" x2="644.6" y2="443.2" stroke-width="1.1"/>
<line x1="638.1" y1="415.4" x2="637.6" y2="409.4" stroke-width="1.1"/>
<line x1="650.5" y1="409.4" x2="652.5" y2="413.4" stroke-width="1.1"/>
<line x1="652.5" y1="430.9" x2="648.5" y2="433.9" stroke-width="1.1"/>
<line x1="639.6" y1="440.4" x2="643.6" y2="439.9" stroke-width="1.1"/>
<ellipse cx="645.2" cy="412.1" rx="4.9" ry="2.5" transform="rotate(5 645.2 412.1)"/>
<ellipse cx="634.3" cy="412.5" rx="3.3" ry="2.8" transform="rotate(-10 634.3 412.5)"/>
<ellipse cx="648.8" cy="422.6" rx="4.6" ry="6.9" transform="rotate(-6 648.8 422.6)"/>
<ellipse cx="637.6" cy="421.3" rx="4.4" ry="3.1" transform="rotate(-12 637.6 421.3)"/>
<ellipse cx="640.0" cy="429.4" rx="6.3" ry="3.8" transform="rotate(12 640.0 429.4)"/>
<ellipse cx="646.0" cy="436.9" rx="5.3" ry="2.8" transform="rotate(-8 646.0 436.9)"/>
<ellipse cx="634.0" cy="436.8" rx="3.3" ry="4.3" transform="rotate(0 634.0 436.8)"/>
<ellipse cx="641.0" cy="442.8" rx="3.4" ry="1.7" transform="rotate(0 641.0 442.8)"/>
<ellipse cx="631.5" cy="428.7" rx="1.6" ry="3.4" transform="rotate(0 631.5 428.7)"/>
</g>
<rect x="630.4" y="409.4" width="22.100000000000023" height="33.80000000000001" fill="none" stroke="#0a0a0a" stroke-width="1.3"/>
<line x1="597.7" y1="409.4" x2="597.7" y2="443.2" stroke="#0a0a0a" stroke-width="2.4" />
<line x1="629.4" y1="409.4" x2="629.4" y2="443.2" stroke="#0a0a0a" stroke-width="2.4" />
<line x1="598" y1="442.4" x2="629" y2="442.4" stroke="#0a0a0a" stroke-width="1.6" />
<path d="M588.9 443.2 V445.4 L594.7 452.1 V465.7 H594.1 V492 H632.8 V465.7 H631.8 V452.1 L637.5 445.4 V443.2 Z" stroke="#0a0a0a" stroke-width="1.25" fill="#fff" />
<line x1="588.9" y1="445.5" x2="637.5" y2="445.5" stroke="#0a0a0a" stroke-width="1.0" />
<line x1="590.6" y1="447.9" x2="635.8" y2="447.9" stroke="#0a0a0a" stroke-width="1.0" />
<line x1="593" y1="450.4" x2="633.6" y2="450.4" stroke="#0a0a0a" stroke-width="1.0" />
<line x1="594.7" y1="452.1" x2="631.8" y2="452.1" stroke="#0a0a0a" stroke-width="1.6" />
<line x1="594" y1="492" x2="633" y2="492" stroke="#0a0a0a" stroke-width="1.7" />
<path d="M594.1 492 V466.7 Q594.1 465.7 595.1 465.7 H599.4 Q600.4 465.7 600.4 466.7 V492" stroke="#0a0a0a" stroke-width="1.4" fill="none" />
<line x1="594.6" y1="466.0" x2="599.9" y2="466.0" stroke="#0a0a0a" stroke-width="1.9" />
<line x1="597.1" y1="466.9" x2="597.1" y2="492" stroke="#0a0a0a" stroke-width="1.0" />
<path d="M609.3 492 V466.7 Q609.3 465.7 610.3 465.7 H616.3 Q617.3 465.7 617.3 466.7 V492" stroke="#0a0a0a" stroke-width="1.4" fill="none" />
<line x1="609.8" y1="466.0" x2="616.8" y2="466.0" stroke="#0a0a0a" stroke-width="1.9" />
<line x1="611.2" y1="466.9" x2="611.2" y2="492" stroke="#0a0a0a" stroke-width="1.0" />
<line x1="615.7" y1="466.9" x2="615.7" y2="492" stroke="#0a0a0a" stroke-width="1.0" />
<path d="M626.7 492 V466.7 Q626.7 465.7 627.7 465.7 H631.8 Q632.8 465.7 632.8 466.7 V492" stroke="#0a0a0a" stroke-width="1.4" fill="none" />
<line x1="627.2" y1="466.0" x2="632.3" y2="466.0" stroke="#0a0a0a" stroke-width="1.9" />
<line x1="629.7" y1="466.9" x2="629.7" y2="492" stroke="#0a0a0a" stroke-width="1.0" />
<rect x="600.7" y="491.8" width="10.7" height="6.5" stroke="#0a0a0a" stroke-width="1.1" fill="#fff"/>
<rect x="601.6" y="498.3" width="9.2" height="7.3" stroke="#0a0a0a" stroke-width="1.3" fill="#fff"/>
<line x1="604.912" y1="498.3" x2="604.912" y2="505.6" stroke="#0a0a0a" stroke-width="1.2" />
<line x1="607.856" y1="498.3" x2="607.856" y2="505.6" stroke="#0a0a0a" stroke-width="1.2" />
<line x1="599.8" y1="506.5" x2="612.2" y2="506.5" stroke="#0a0a0a" stroke-width="2.0" />
<line x1="600.0" y1="506.5" x2="600.0" y2="596.7" stroke="#0a0a0a" stroke-width="1.8" />
<line x1="612.0" y1="506.5" x2="612.0" y2="596.7" stroke="#0a0a0a" stroke-width="1.8" />
<line x1="600.0" y1="516.8" x2="612.0" y2="516.8" stroke="#0a0a0a" stroke-width="1.0" />
<line x1="600.0" y1="518.5" x2="612.0" y2="518.5" stroke="#0a0a0a" stroke-width="1.0" />
<line x1="600.0" y1="523.8" x2="612.0" y2="523.8" stroke="#0a0a0a" stroke-width="1.1" />
<line x1="600.0" y1="532.4" x2="612.0" y2="525.8" stroke="#0a0a0a" stroke-width="1.05" />
<line x1="600.0" y1="535.1" x2="612.0" y2="528.5" stroke="#0a0a0a" stroke-width="1.05" />
<line x1="600.0" y1="541.6" x2="612.0" y2="535.0" stroke="#0a0a0a" stroke-width="1.05" />
<line x1="600.0" y1="544.3" x2="612.0" y2="537.7" stroke="#0a0a0a" stroke-width="1.05" />
<line x1="600.0" y1="550.8" x2="612.0" y2="544.2" stroke="#0a0a0a" stroke-width="1.05" />
<line x1="600.0" y1="553.5" x2="612.0" y2="546.9" stroke="#0a0a0a" stroke-width="1.05" />
<line x1="600.0" y1="560.0" x2="612.0" y2="553.4" stroke="#0a0a0a" stroke-width="1.05" />
<line x1="600.0" y1="562.7" x2="612.0" y2="556.1" stroke="#0a0a0a" stroke-width="1.05" />
<line x1="600.0" y1="569.2" x2="612.0" y2="562.6" stroke="#0a0a0a" stroke-width="1.05" />
<line x1="600.0" y1="571.9" x2="612.0" y2="565.3" stroke="#0a0a0a" stroke-width="1.05" />
<line x1="600.0" y1="578.4" x2="612.0" y2="571.8" stroke="#0a0a0a" stroke-width="1.05" />
<line x1="600.0" y1="581.1" x2="612.0" y2="574.5" stroke="#0a0a0a" stroke-width="1.05" />
<line x1="600.0" y1="587.6" x2="612.0" y2="581.0" stroke="#0a0a0a" stroke-width="1.05" />
<line x1="600.0" y1="590.3" x2="612.0" y2="583.7" stroke="#0a0a0a" stroke-width="1.05" />
<line x1="607.5" y1="592.7" x2="612.0" y2="590.2" stroke="#0a0a0a" stroke-width="1.05" />
<line x1="600.0" y1="592.7" x2="612.0" y2="592.7" stroke="#0a0a0a" stroke-width="1.4" />
<line x1="599.7" y1="597.1" x2="612.3" y2="597.1" stroke="#0a0a0a" stroke-width="1.9" />
<rect x="601.4" y="597.1" width="9.6" height="7.5" stroke="#0a0a0a" stroke-width="1.3" fill="#fff"/>
<line x1="601.4" y1="599.0" x2="611.0" y2="599.0" stroke="#0a0a0a" stroke-width="1.5" />
<line x1="601.4" y1="603.9000000000001" x2="611.0" y2="603.9000000000001" stroke="#0a0a0a" stroke-width="1.6" />
<rect x="599.4" y="605.3000000000001" width="13.2" height="3.6" stroke="#0a0a0a" stroke-width="1.4" fill="#fff"/>
<line x1="599.4" y1="605.9000000000001" x2="612.6" y2="605.9000000000001" stroke="#0a0a0a" stroke-width="1.6" />
<rect x="597.2" y="609.1" width="17.8" height="12.299999999999955" stroke="#0a0a0a" stroke-width="1.8" fill="#fff"/>
<line x1="606.1" y1="609.1" x2="606.1" y2="621.4" stroke="#0a0a0a" stroke-width="1.5" />
<rect x="615.7" y="491.8" width="10.499999999999954" height="6.5" stroke="#0a0a0a" stroke-width="1.1" fill="#fff"/>
<rect x="616.6" y="498.3" width="8.999999999999954" height="7.3" stroke="#0a0a0a" stroke-width="1.3" fill="#fff"/>
<line x1="619.84" y1="498.3" x2="619.84" y2="505.6" stroke="#0a0a0a" stroke-width="1.2" />
<line x1="622.72" y1="498.3" x2="622.72" y2="505.6" stroke="#0a0a0a" stroke-width="1.2" />
<line x1="614.8" y1="506.5" x2="627.0" y2="506.5" stroke="#0a0a0a" stroke-width="2.0" />
<line x1="615.0" y1="506.5" x2="615.0" y2="596.7" stroke="#0a0a0a" stroke-width="1.8" />
<line x1="626.8" y1="506.5" x2="626.8" y2="596.7" stroke="#0a0a0a" stroke-width="1.8" />
<line x1="615.0" y1="516.8" x2="626.8" y2="516.8" stroke="#0a0a0a" stroke-width="1.0" />
<line x1="615.0" y1="518.5" x2="626.8" y2="518.5" stroke="#0a0a0a" stroke-width="1.0" />
<line x1="615.0" y1="523.8" x2="626.8" y2="523.8" stroke="#0a0a0a" stroke-width="1.1" />
<line x1="615.0" y1="532.4" x2="626.8" y2="525.8" stroke="#0a0a0a" stroke-width="1.05" />
<line x1="615.0" y1="535.1" x2="626.8" y2="528.5" stroke="#0a0a0a" stroke-width="1.05" />
<line x1="615.0" y1="541.6" x2="626.8" y2="535.0" stroke="#0a0a0a" stroke-width="1.05" />
<line x1="615.0" y1="544.3" x2="626.8" y2="537.7" stroke="#0a0a0a" stroke-width="1.05" />
<line x1="615.0" y1="550.8" x2="626.8" y2="544.2" stroke="#0a0a0a" stroke-width="1.05" />
<line x1="615.0" y1="553.5" x2="626.8" y2="546.9" stroke="#0a0a0a" stroke-width="1.05" />
<line x1="615.0" y1="560.0" x2="626.8" y2="553.4" stroke="#0a0a0a" stroke-width="1.05" />
<line x1="615.0" y1="562.7" x2="626.8" y2="556.1" stroke="#0a0a0a" stroke-width="1.05" />
<line x1="615.0" y1="569.2" x2="626.8" y2="562.6" stroke="#0a0a0a" stroke-width="1.05" />
<line x1="615.0" y1="571.9" x2="626.8" y2="565.3" stroke="#0a0a0a" stroke-width="1.05" />
<line x1="615.0" y1="578.4" x2="626.8" y2="571.8" stroke="#0a0a0a" stroke-width="1.05" />
<line x1="615.0" y1="581.1" x2="626.8" y2="574.5" stroke="#0a0a0a" stroke-width="1.05" />
<line x1="615.0" y1="587.6" x2="626.8" y2="581.0" stroke="#0a0a0a" stroke-width="1.05" />
<line x1="615.0" y1="590.3" x2="626.8" y2="583.7" stroke="#0a0a0a" stroke-width="1.05" />
<line x1="622.3" y1="592.7" x2="626.8" y2="590.2" stroke="#0a0a0a" stroke-width="1.05" />
<line x1="615.0" y1="592.7" x2="626.8" y2="592.7" stroke="#0a0a0a" stroke-width="1.4" />
<line x1="614.7" y1="597.1" x2="627.0999999999999" y2="597.1" stroke="#0a0a0a" stroke-width="1.9" />
<rect x="616.4" y="597.1" width="9.399999999999954" height="7.5" stroke="#0a0a0a" stroke-width="1.3" fill="#fff"/>
<line x1="616.4" y1="599.0" x2="625.8" y2="599.0" stroke="#0a0a0a" stroke-width="1.5" />
<line x1="616.4" y1="603.9000000000001" x2="625.8" y2="603.9000000000001" stroke="#0a0a0a" stroke-width="1.6" />
<rect x="614.4" y="605.3000000000001" width="12.999999999999954" height="3.6" stroke="#0a0a0a" stroke-width="1.4" fill="#fff"/>
<line x1="614.4" y1="605.9000000000001" x2="627.4" y2="605.9000000000001" stroke="#0a0a0a" stroke-width="1.6" />
<rect x="612.2" y="609.1" width="17.599999999999955" height="12.299999999999955" stroke="#0a0a0a" stroke-width="1.8" fill="#fff"/>
<line x1="621.0" y1="609.1" x2="621.0" y2="621.4" stroke="#0a0a0a" stroke-width="1.5" />
<ellipse cx="710.2" cy="47.8" rx="8.0" ry="11.1" transform="rotate(-11.7 710.2 47.8)" stroke="#555" stroke-width="0.8" fill="none" />
<path d="M708.1 36.9 Q701.5 38.5 702.2 48.5 Q703 57 712.6 58.6" stroke="#333" stroke-width="0.6" fill="none" />
<line x1="706.5" y1="37.4" x2="741.8" y2="25.5" stroke="#222" stroke-width="1.3" />
<line x1="712.7" y1="58.6" x2="744.6" y2="48.2" stroke="#222" stroke-width="1.2" />
<path d="M741.4 25.7 L817.6 0.3" stroke="#222" stroke-width="0.75" fill="none" stroke-dasharray="2.2 0.9"/>
<path d="M744.6 48.2 L818.5 22.6 Q827.5 20.5 830.1 37.6" stroke="#222" stroke-width="0.75" fill="none" stroke-dasharray="2.2 0.9"/>
<path d="M817.6 0.3 C838 -3.5 852 16 852.4 39" stroke="#222" stroke-width="0.75" fill="none" stroke-dasharray="2.2 0.9"/>
<line x1="830.1" y1="37.6" x2="830.1" y2="171.8" stroke="#222" stroke-width="0.75" />
<line x1="852.4" y1="39" x2="852.4" y2="152" stroke="#222" stroke-width="0.75" />
<line x1="852.3" y1="152" x2="852.3" y2="170.4" stroke="#222" stroke-width="1.3" />
<line x1="830.1" y1="152" x2="830.1" y2="171.8" stroke="#222" stroke-width="1.0" />
<path d="M756.4 20.7 Q765.5 24 764.2 32 Q763.5 37 762.6 41" stroke="#222" stroke-width="0.8" fill="none" />
<ellipse cx="746.3" cy="36.3" rx="3.4" ry="16.5" transform="rotate(-11 746.3 36.3)" stroke="#444" stroke-width="0.7" fill="none" stroke-dasharray="2 1"/>
<path d="M742.9 20.2 Q741.4 23 742 28.5" stroke="#222" stroke-width="1.1" fill="none" />
<path d="M745.5 41 Q747 50 749.6 52.3 Q751.6 51 750.8 45" stroke="#222" stroke-width="1.1" fill="none" />
<path d="M740.9 24.5 L743.4 22.5 L743.6 28.6 Z" stroke="#222" stroke-width="0.6" fill="#222" />
<path d="M744.6 41 L745.6 47.2 L748.2 45.6 Z" stroke="#222" stroke-width="0.6" fill="#222" />
<path d="M714.8 58.3 L726.8 51.6 L729 52.4 L725.6 57.2 Q720 59.4 714.8 58.3 Z" stroke="#222" stroke-width="0.9" fill="none" />
<path d="M718 57.6 L726.5 53.2" stroke="#222" stroke-width="0.6" fill="none" />
<path d="M729.9 53.3 L740.5 50.2 V54.2 L734.7 55.9 L729.9 55 Z" stroke="#222" stroke-width="0.9" fill="none" />
<path d="M735.8 54 L739.6 53 V55 L735.8 55.9 Z" stroke="#222" stroke-width="0.7" fill="none" />
<text x="740.6" y="14.3" font-family='"Liberation Sans", sans-serif' font-size="11" textLength="24.8" lengthAdjust="spacingAndGlyphs" fill="#111">360&#730;</text>
<text x="859" y="106.6" font-family='"Liberation Sans", sans-serif' font-size="11.2" textLength="24.8" lengthAdjust="spacingAndGlyphs" fill="#111">360&#730;</text>
<path d="M821.1 110.4 A16.9 3.1 0 0 1 832 107.5" stroke="#222" stroke-width="1.0" fill="none" />
<path d="M847.5 107.8 A16.9 3.1 0 0 1 854.9 110.4" stroke="#222" stroke-width="1.0" fill="none" />
<path d="M821.1 110.4 A16.9 3.1 0 0 0 830.2 113.3" stroke="#222" stroke-width="1.0" fill="none" />
<path d="M852.3 112.1 A16.9 3.1 0 0 0 854.9 110.4" stroke="#222" stroke-width="1.0" fill="none" />
<path d="M830.2 113.3 A16.9 3.1 0 0 0 852.3 112.1" stroke="#777" stroke-width="0.8" fill="none" />
<path d="M834 108 L829.6 106.8 L829.8 109.4 Z" stroke="#222" stroke-width="0.6" fill="#222" />
<path d="M846 108.4 L850.6 107.6 L850.4 109.8 Z" stroke="#222" stroke-width="0.6" fill="#222" />
<path d="M830.1 152.3 Q841.3 158.6 852.4 152.2" stroke="#222" stroke-width="1.5" fill="none" />
<path d="M830.1 171.8 Q832 176 838 175 L852.4 170.4" stroke="#222" stroke-width="0.9" fill="none" />
<path d="M810 156.9 Q795 160.5 795.5 175.5 Q796 186.5 801.9 190.1" stroke="#222" stroke-width="1.2" fill="none" />
<path d="M828 163.2 Q813.5 167 814.1 181 Q814.8 192 820.8 197" stroke="#222" stroke-width="0.8" fill="none" stroke-dasharray="2.4 0.9"/>
<path d="M817 159.2 L829.5 163.4" stroke="#222" stroke-width="0.8" fill="none" stroke-dasharray="2.4 0.9"/>
<path d="M801 189.9 L823.4 197.6" stroke="#222" stroke-width="0.8" fill="none" stroke-dasharray="2.4 0.9"/>
<path d="M810.7 146 V159.6 Q814 161.2 817.2 159.8 V146" stroke="#222" stroke-width="0.9" fill="none" />
<ellipse cx="813.95" cy="145.6" rx="3.3" ry="1.4" transform="rotate(0 813.95 145.6)" stroke="#222" stroke-width="1.2" fill="none" />
<path d="M852.4 170.4 L883.4 181.6" stroke="#222" stroke-width="0.8" fill="none" stroke-dasharray="2.4 0.9"/>
<path d="M833.6 196.8 Q838 202 846 204.6 L884.5 218.4" stroke="#222" stroke-width="0.8" fill="none" stroke-dasharray="2.4 0.9"/>
<line x1="823.9" y1="193.9" x2="823.9" y2="226" stroke="#222" stroke-width="0.8" />
<line x1="858.6" y1="209.8" x2="858.6" y2="226" stroke="#222" stroke-width="0.8" />
<path d="M824 193.8 L825.6 191.8" stroke="#222" stroke-width="0.7" fill="none" />
<path d="M821.1 227 Q821.5 233 841.2 234.3 Q861 233 861.3 227" stroke="#222" stroke-width="1.1" fill="none" />
<path d="M821.1 227 Q820 236 841.2 237.5 Q862.4 236 861.3 227" stroke="#222" stroke-width="1.2" fill="none" />
<path d="M824 226 Q821.2 226.2 821.1 228" stroke="#222" stroke-width="0.8" fill="none" />
<path d="M858.6 226 Q861.3 226.2 861.3 228" stroke="#222" stroke-width="0.8" fill="none" />
<path d="M880 181 Q866 184 864.8 200 Q865 212 871 215" stroke="#222" stroke-width="1.6" fill="none" />
<path d="M882.5 182 Q869 186 867.6 201 Q868 212 873.5 216.5" stroke="#222" stroke-width="0.8" fill="none" />
<ellipse cx="893.4" cy="202.8" rx="12.8" ry="17.6" transform="rotate(11 893.4 202.8)" stroke="#222" stroke-width="1.1" fill="none" />
<path d="M879.7 180.6 L895 185.5" stroke="#222" stroke-width="0.9" fill="none" />
<path d="M872.3 213.6 L888.8 220" stroke="#222" stroke-width="0.9" fill="none" />
<path d="M883.7 138 V184.4 Q887.5 186.6 891.4 184.6 V138" stroke="#222" stroke-width="1.0" fill="#fff" />
<ellipse cx="887.55" cy="137.5" rx="3.8" ry="1.5" transform="rotate(0 887.55 137.5)" stroke="#222" stroke-width="1.2" fill="#fff" />
</svg>
</body></html>
